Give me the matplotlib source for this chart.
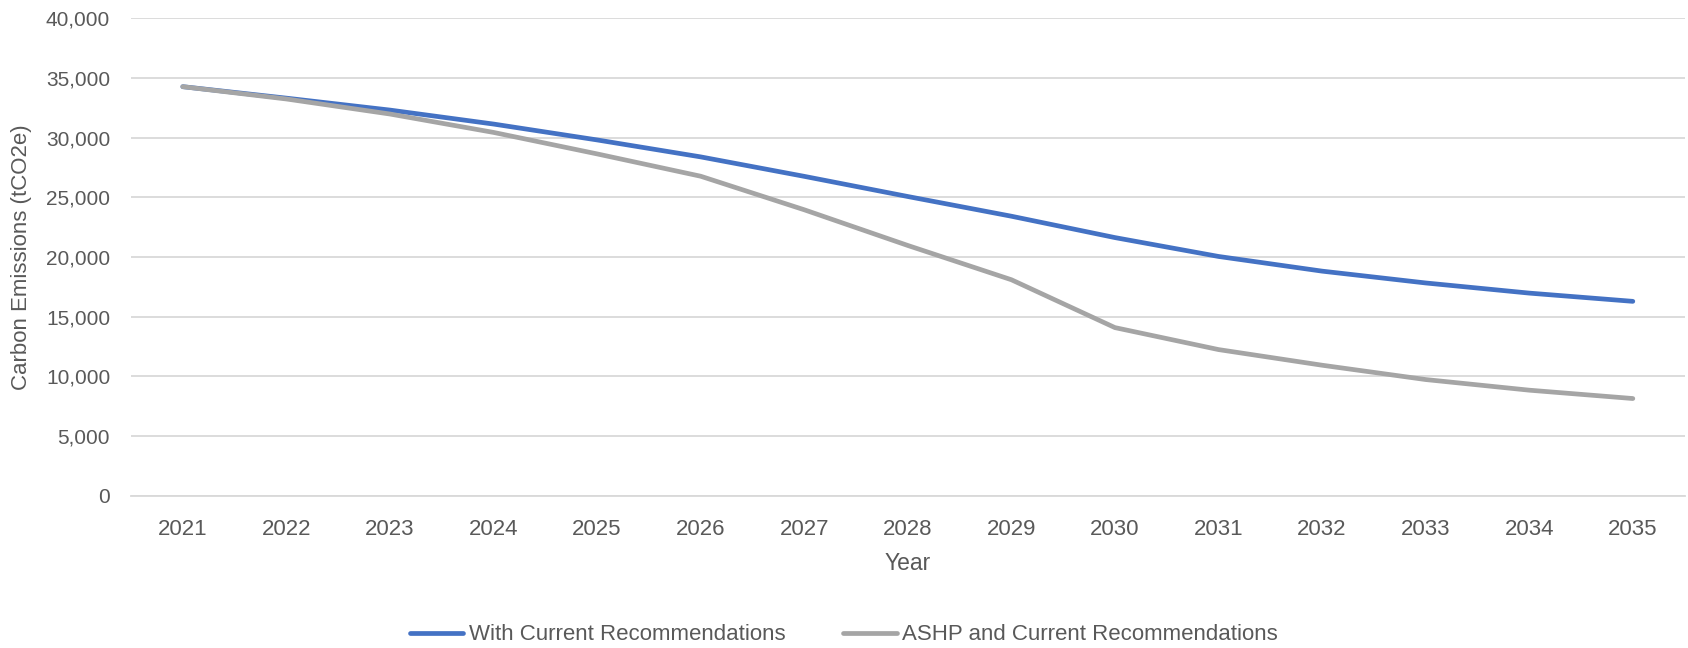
import matplotlib
matplotlib.use("Agg")
import matplotlib.pyplot as plt
from matplotlib.ticker import FuncFormatter

# ─────────────────────────────────────────────
# DATA
# ─────────────────────────────────────────────
years = ["2021", "2022", "2023", "2024", "2025", "2026", "2027", "2028",
         "2029", "2030", "2031", "2032", "2033", "2034", "2035"]
with_current = [34260, 33300, 32300, 31130, 29800, 28380, 26750, 25060,
                23410, 21620, 20040, 18810, 17820, 16970, 16280]
ashp_current = [34260, 33230, 31970, 30430, 28630, 26760, 23950, 20960,
                18090, 14080, 12240, 10930, 9730, 8840, 8140]
y_ticks = [0, 5000, 10000, 15000, 20000, 25000, 30000, 35000, 40000]

TEXT = "#595959"
GRID = "#d9d9d9"
BLUE = "#4472C4"
GREY = "#A5A5A5"

plt.rcParams["font.family"] = ["Liberation Sans", "DejaVu Sans"]
plt.rcParams["font.size"] = 15

fig = plt.figure(figsize=(16.88, 6.48), dpi=100)
ax = fig.add_axes([0.0776, 0.235, 0.9204, 0.737])

x = range(len(years))
ax.plot(x, with_current, color=BLUE, lw=3.4, solid_capstyle="round",
        solid_joinstyle="round", label="With Current Recommendations", zorder=3)
ax.plot(x, ashp_current, color=GREY, lw=3.4, solid_capstyle="round",
        solid_joinstyle="round", label="ASHP and Current Recommendations", zorder=3)

ax.set_xlim(-0.5, len(years) - 0.5)
ax.set_ylim(0, 40000)
ax.set_yticks(y_ticks)
ax.yaxis.set_major_formatter(FuncFormatter(lambda v, p: f"{int(v):,}"))
ax.set_xticks(list(x))
ax.set_xticklabels(years)

ax.grid(axis="y", color=GRID, lw=1.3)
ax.set_axisbelow(True)
for side in ("top", "right", "left"):
    ax.spines[side].set_visible(False)
ax.spines["bottom"].set_color(GRID)
ax.spines["bottom"].set_linewidth(1.3)
ax.tick_params(axis="both", length=0, colors=TEXT)
ax.tick_params(axis="y", pad=15, labelsize=15)
ax.tick_params(axis="x", pad=17, labelsize=16)

ax.set_xlabel("Year", color=TEXT, fontsize=16.5)
ax.xaxis.set_label_coords(0.5, -0.141)
ax.xaxis.label.set_va("center")
ax.set_ylabel("Carbon Emissions (tCO2e)", color=TEXT, fontsize=16)
ax.yaxis.set_label_coords(-0.0705, 0.5)
ax.yaxis.label.set_va("center")

leg = fig.legend(loc="center", bbox_to_anchor=(0.5, 1 - 635 / 648), ncol=2,
                 frameon=False, handlelength=2.4, handletextpad=0.25,
                 columnspacing=2.6, fontsize=16)
for t in leg.get_texts():
    t.set_color(TEXT)

fig.savefig("out.png", dpi=100)
